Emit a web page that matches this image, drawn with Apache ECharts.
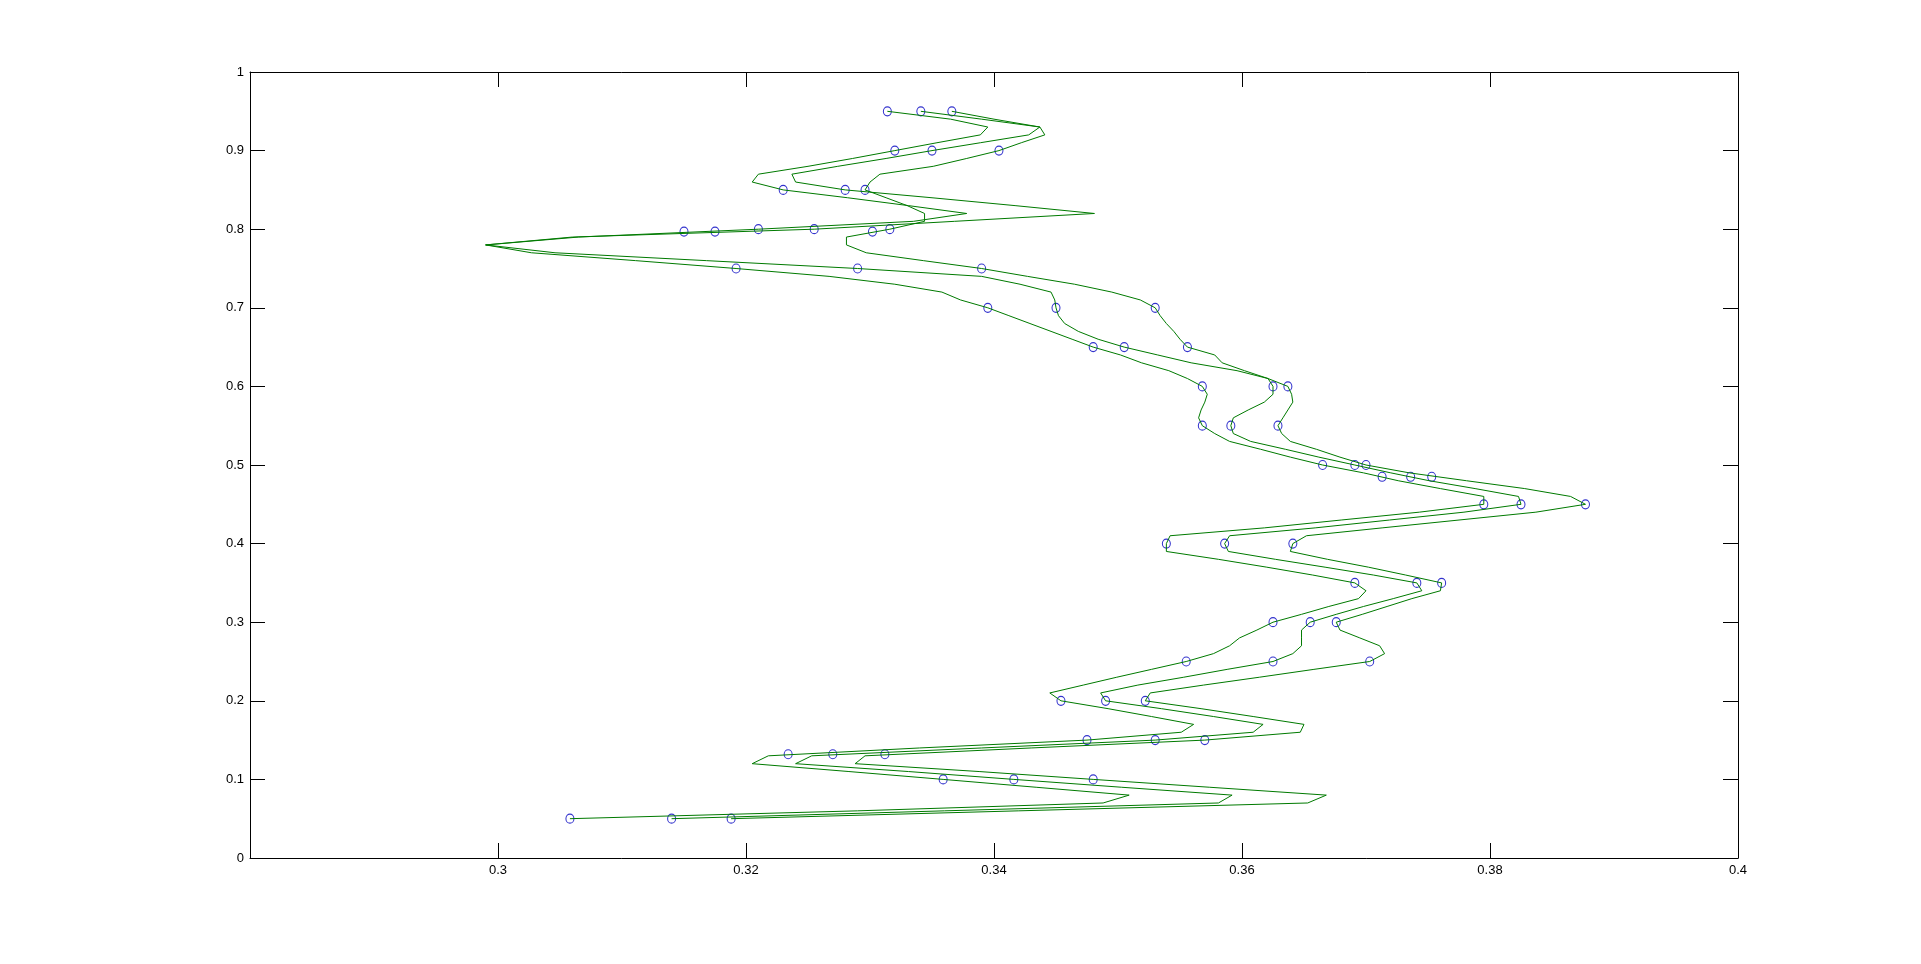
<!DOCTYPE html>
<html><head><meta charset="utf-8">
<script src="https://cdn.jsdelivr.net/npm/echarts@6/dist/echarts.min.js"></script>
<style>html,body{margin:0;padding:0;background:#fff;overflow:hidden}#c{width:1921px;height:964px}</style>
</head><body><div id="c"></div>
<script>
// Marker data (y level and x value per curve)
const markerY = [0.05,0.1,0.132,0.15,0.2,0.25,0.3,0.35,0.4,0.45,0.485,0.5,0.55,0.6,0.65,0.7,0.75,0.797,0.8,0.85,0.9,0.95];
const markerL = [0.3058,0.3359,0.3234,0.3475,0.3454,0.3555,0.3625,0.3691,0.3539,0.3795,0.3713,0.3665,0.3568,0.3568,0.3480,0.3395,0.3192,0.3150,0.3210,0.3230,0.3320,0.3314];
const markerM = [0.3140,0.3416,0.3270,0.3530,0.3490,0.3625,0.3655,0.3741,0.3586,0.3825,0.3736,0.3691,0.3591,0.3625,0.3505,0.3450,0.3290,0.3175,0.3255,0.3280,0.3350,0.3341];
const markerR = [0.3188,0.3480,0.3312,0.3570,0.3522,0.3703,0.3676,0.3761,0.3641,0.3877,0.3753,0.3700,0.3629,0.3637,0.3556,0.3530,0.3390,0.3302,0.3316,0.3296,0.3404,0.3366];

// Green curve vertices
const lineY = [0.05,0.06,0.07,0.08,0.09,0.10,0.11,0.12,0.13,0.14,0.15,0.16,0.17,0.18,0.19,0.20,0.21,0.22,0.23,0.24,0.25,0.26,0.27,0.28,0.29,0.30,0.31,0.32,0.33,0.34,0.35,0.36,0.37,0.38,0.39,0.40,0.41,0.42,0.43,0.44,0.45,0.46,0.47,0.48,0.49,0.50,0.51,0.52,0.53,0.54,0.55,0.56,0.57,0.58,0.59,0.60,0.61,0.62,0.63,0.64,0.65,0.66,0.67,0.68,0.69,0.70,0.71,0.72,0.73,0.74,0.75,0.76,0.77,0.78,0.79,0.80,0.81,0.82,0.83,0.84,0.85,0.86,0.87,0.88,0.89,0.90,0.91,0.92,0.93,0.94,0.95];
const lineL = [0.3058,0.3290,0.3488,0.3509,0.3434,0.3359,0.3283,0.3205,0.3218,0.3340,0.3475,0.3551,0.3561,0.3527,0.3492,0.3454,0.3445,0.3472,0.3499,0.3527,0.3555,0.3577,0.3590,0.3598,0.3612,0.3625,0.3648,0.3670,0.3694,0.3700,0.3691,0.3657,0.3620,0.3581,0.3539,0.3539,0.3542,0.3618,0.3680,0.3743,0.3795,0.3795,0.3760,0.3726,0.3698,0.3665,0.3639,0.3615,0.3590,0.3578,0.3568,0.3565,0.3567,0.3570,0.3572,0.3568,0.3556,0.3541,0.3519,0.3502,0.3480,0.3463,0.3446,0.3429,0.3412,0.3395,0.3373,0.3358,0.3320,0.3267,0.3192,0.3111,0.3027,0.2990,0.3065,0.3210,0.3335,0.3378,0.3331,0.3282,0.3230,0.3205,0.3210,0.3250,0.3286,0.3320,0.3354,0.3389,0.3395,0.3365,0.3314];
const lineM = [0.3140,0.3360,0.3581,0.3592,0.3503,0.3416,0.3331,0.3240,0.3253,0.3390,0.3530,0.3609,0.3617,0.3577,0.3535,0.3490,0.3486,0.3516,0.3553,0.3588,0.3625,0.3641,0.3648,0.3648,0.3648,0.3655,0.3676,0.3698,0.3722,0.3745,0.3741,0.3706,0.3667,0.3627,0.3589,0.3586,0.3590,0.3659,0.3719,0.3779,0.3825,0.3823,0.3788,0.3751,0.3720,0.3691,0.3662,0.3635,0.3607,0.3593,0.3591,0.3593,0.3605,0.3618,0.3625,0.3625,0.3621,0.3596,0.3559,0.3532,0.3505,0.3484,0.3468,0.3457,0.3452,0.3450,0.3449,0.3446,0.3421,0.3390,0.3290,0.3168,0.3046,0.2990,0.3060,0.3255,0.3368,0.3481,0.3417,0.3350,0.3280,0.3240,0.3237,0.3274,0.3313,0.3350,0.3389,0.3428,0.3437,0.3390,0.3341];
const lineR = [0.3188,0.3420,0.3653,0.3668,0.3574,0.3480,0.3388,0.3288,0.3296,0.3430,0.3570,0.3647,0.3650,0.3609,0.3567,0.3522,0.3526,0.3569,0.3614,0.3658,0.3703,0.3715,0.3711,0.3695,0.3679,0.3676,0.3697,0.3717,0.3737,0.3760,0.3761,0.3732,0.3702,0.3669,0.3639,0.3641,0.3652,0.3713,0.3775,0.3837,0.3877,0.3865,0.3828,0.3781,0.3735,0.3700,0.3679,0.3660,0.3639,0.3632,0.3629,0.3633,0.3637,0.3641,0.3640,0.3637,0.3621,0.3602,0.3584,0.3578,0.3556,0.3550,0.3545,0.3539,0.3534,0.3530,0.3518,0.3495,0.3465,0.3427,0.3390,0.3343,0.3297,0.3281,0.3281,0.3316,0.3344,0.3344,0.3330,0.3313,0.3296,0.3300,0.3308,0.3351,0.3378,0.3404,0.3422,0.3441,0.3437,0.3400,0.3366];

// Tick labels
const xTickValues = [0.3,0.32,0.34,0.36,0.38,0.4];
const xTickLabels = ['0.3','0.32','0.34','0.36','0.38','0.4'];
const yTickValues = [0,0.1,0.2,0.3,0.4,0.5,0.6,0.7,0.8,0.9,1];
const yTickLabels = ['0','0.1','0.2','0.3','0.4','0.5','0.6','0.7','0.8','0.9','1'];

function labelFor(vals, labels){
  return function(v){
    for (let i=0;i<vals.length;i++){ if (Math.abs(vals[i]-v)<1e-6) return labels[i]; }
    return '';
  };
}
const FONT = 'Liberation Sans, Arial, sans-serif';
const axisCommon = {
  type:'value',
  axisLine:{show:true,onZero:false,lineStyle:{color:'#000',width:1}},
  axisTick:{show:true,inside:true,length:15,lineStyle:{color:'#000',width:1}},
  splitLine:{show:false}
};
const chart = echarts.init(document.getElementById('c'), null, {renderer:'canvas'});
const pairs = (xs, ys) => xs.map((x,i)=>[x, ys[i]]);
const lineStyle = {color:'#007a00', width:1};
const markStyle = {color:'rgba(0,0,0,0)', borderColor:'#0000c0', borderWidth:1.1};
chart.setOption({
  animation:false,
  backgroundColor:'#ffffff',
  grid:{left:250,right:183,top:72,bottom:106,containLabel:false},
  xAxis:[
    Object.assign({}, axisCommon, {min:0.28,max:0.4,interval:0.02,position:'bottom',
      axisLabel:{show:true,color:'#000',fontSize:13,fontFamily:FONT,margin:6,formatter:labelFor(xTickValues,xTickLabels)}}),
    Object.assign({}, axisCommon, {min:0.28,max:0.4,interval:0.02,position:'top',axisLabel:{show:false}})
  ],
  yAxis:[
    Object.assign({}, axisCommon, {min:0,max:1,interval:0.1,position:'left',
      axisLabel:{show:true,color:'#000',fontSize:13,fontFamily:FONT,margin:6,formatter:labelFor(yTickValues,yTickLabels)}}),
    Object.assign({}, axisCommon, {min:0,max:1,interval:0.1,position:'right',axisLabel:{show:false}})
  ],
  series:[
    {type:'line',data:pairs(lineL,lineY),showSymbol:false,lineStyle:lineStyle,silent:true},
    {type:'line',data:pairs(lineM,lineY),showSymbol:false,lineStyle:lineStyle,silent:true},
    {type:'line',data:pairs(lineR,lineY),showSymbol:false,lineStyle:lineStyle,silent:true},
    {type:'scatter',data:pairs(markerL,markerY),symbol:'circle',symbolSize:[8,9],itemStyle:markStyle,silent:true},
    {type:'scatter',data:pairs(markerM,markerY),symbol:'circle',symbolSize:[8,9],itemStyle:markStyle,silent:true},
    {type:'scatter',data:pairs(markerR,markerY),symbol:'circle',symbolSize:[8,9],itemStyle:markStyle,silent:true}
  ]
});
</script></body></html>
